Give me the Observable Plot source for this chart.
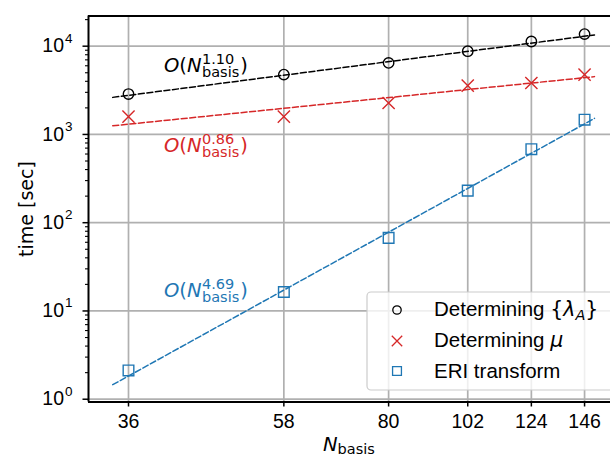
<!DOCTYPE html>
<html><head><meta charset="utf-8">
<script src="https://cdn.jsdelivr.net/npm/d3@7"></script>
<script src="https://cdn.jsdelivr.net/npm/@observablehq/plot@0.6"></script>
<style>body{margin:0;background:#fff} svg{display:block}</style>
</head><body><div id="chart"></div>
<script>
// ---- data ----
const nBasis = [36, 58, 80, 102, 124, 146];
const tLambda = [2870, 4770, 6470, 8770, 11300, 13700];
const tMu = [1590, 1590, 2270, 3570, 3830, 4770];
const tERI = [2.12, 16.4, 67.3, 231, 681, 1468];
// fitted power-law lines (end points)
const fitN = [34.3, 150.5];
const fitLambda = [2630, 13400];
const fitMu = [1254, 4520];
const fitERI = [1.46, 1520];
const xDomain = [31.84, 158.1];
const yDomain = [0.93, 21980];
const yMajor = [1, 10, 100, 1000, 10000];
const yExp = ["0", "1", "2", "3", "4"];
const yMinor = [2,3,4,5,6,7,8,9,20,30,40,50,60,70,80,90,200,300,400,500,600,700,800,900,
  2000,3000,4000,5000,6000,7000,8000,9000,20000];
const annotN = 40.2;
const annotT = [5000, 624, 14.2];
const annotExp = ["1.10", "0.86", "4.69"];
const colors = ["#000000", "#d62728", "#1f77b4"];

const rows = (ys) => nBasis.map((n, i) => ({n, t: ys[i]}));
const fitRows = (ys) => fitN.map((n, i) => ({n, t: ys[i]}));
const grid = {stroke: "#b0b0b0", strokeOpacity: 1, strokeWidth: 1.7};
const dash = "6,2.6";

const chart = Plot.plot({
  width: 610, height: 458,
  marginLeft: 88, marginRight: 0, marginTop: 15.5, marginBottom: 56.5,
  style: {fontFamily: "'Liberation Sans', Arial, sans-serif", fontSize: "19px", background: "white", color: "black"},
  x: {type: "log", domain: xDomain, label: null},
  y: {type: "log", domain: yDomain, label: null},
  marks: [
    Plot.gridX(nBasis, grid),
    Plot.gridY(yMajor, grid),
    Plot.line(fitRows(fitLambda), {x: "n", y: "t", stroke: colors[0], strokeWidth: 1.5, strokeDasharray: dash}),
    Plot.line(fitRows(fitMu), {x: "n", y: "t", stroke: colors[1], strokeWidth: 1.5, strokeDasharray: dash}),
    Plot.line(fitRows(fitERI), {x: "n", y: "t", stroke: colors[2], strokeWidth: 1.5, strokeDasharray: dash}),
    Plot.dot(rows(tLambda), {x: "n", y: "t", r: 5.2, stroke: colors[0], fill: "none", strokeWidth: 1.4}),
    Plot.dot(rows(tMu), {x: "n", y: "t", r: 5.6, symbol: "times", stroke: colors[1], fill: "none", strokeWidth: 1.4}),
    Plot.dot(rows(tERI), {x: "n", y: "t", r: 6, symbol: "square", stroke: colors[2], fill: "none", strokeWidth: 1.4}),
    Plot.ruleX([xDomain[0]], {stroke: "black", strokeWidth: 2}),
    Plot.ruleY([yDomain[0]], {stroke: "black", strokeWidth: 2}),
    Plot.ruleY([yDomain[1]], {stroke: "black", strokeWidth: 2}),
    Plot.axisX(nBasis, {tickSize: 5, tickPadding: 7, strokeWidth: 1.5, fontSize: 19.5, tickFormat: d => String(d), label: null}),
    Plot.axisY(yMajor, {tickSize: 5.5, strokeWidth: 1.5, tickFormat: () => "", label: null}),
    Plot.axisY(yMinor, {tickSize: 3, strokeWidth: 1.1, tickFormat: () => "", label: null}),
    Plot.text(yMajor, {y: d => d, frameAnchor: "left", text: () => "10", textAnchor: "end", dx: -24.5, fontSize: 19.5}),
    Plot.text(yMajor, {y: d => d, frameAnchor: "left", text: (d, i) => yExp[i], textAnchor: "start", dx: -23.5, dy: -8, fontSize: 13.5})
  ]
});
document.getElementById("chart").append(chart);

const sx = chart.scale("x"), sy = chart.scale("y");
const svg = d3.select(chart);
const MATH = "'DejaVu Sans', sans-serif";
const LF = "'Liberation Sans', Arial, sans-serif";

// annotations O(N^p_basis)
function mathLabel(x, y, color, exp) {
  const g = svg.append("g").attr("fill", color).attr("text-anchor", "start").style("font-family", MATH);
  const t = g.append("text").attr("x", x).attr("y", y).style("font-size", "19.5px");
  t.append("tspan").style("font-style", "italic").text("O");
  t.append("tspan").text("(");
  t.append("tspan").style("font-style", "italic").text("N");
  const xs = x + t.node().getComputedTextLength() + 0.5;
  const sup = g.append("text").attr("x", xs).attr("y", y - 8.5).style("font-size", "14.5px").text(exp);
  const sub = g.append("text").attr("x", xs).attr("y", y + 5).style("font-size", "14.5px").text("basis");
  const w = Math.max(sup.node().getComputedTextLength(), sub.node().getComputedTextLength());
  g.append("text").attr("x", xs + w + 1).attr("y", y).style("font-size", "19.5px").text(")");
}
annotT.forEach((t, i) => mathLabel(sx.apply(annotN), sy.apply(t), colors[i], annotExp[i]));

// axis labels
const xl = svg.append("text").attr("x", 323).attr("y", 451).attr("text-anchor", "start")
  .style("font-family", MATH).attr("fill", "black");
xl.append("tspan").style("font-style", "italic").style("font-size", "19.5px").text("N");
xl.append("tspan").attr("dy", 3).style("font-size", "14.5px").text("basis");

svg.append("text").attr("transform", "translate(33,209) rotate(-90)").attr("text-anchor", "middle")
  .style("font-family", MATH).style("font-size", "19px").attr("fill", "black").text("time [sec]");

// legend
const lg = svg.append("g").attr("text-anchor", "start");
lg.append("rect").attr("x", 367).attr("y", 292).attr("width", 250).attr("height", 98).attr("rx", 4)
  .attr("fill", "white").attr("fill-opacity", 0.8).attr("stroke", "#cccccc").attr("stroke-width", 1.2);
const legY = [310, 341, 371];
lg.append("circle").attr("cx", 397).attr("cy", legY[0]).attr("r", 4.2).attr("fill", "none")
  .attr("stroke", colors[0]).attr("stroke-width", 1.3);
lg.append("path").attr("transform", `translate(397,${legY[1]})`).attr("d", d3.symbol(d3.symbolTimes, Math.PI * 4.8 * 4.8)())
  .attr("fill", "none").attr("stroke", colors[1]).attr("stroke-width", 1.3);
lg.append("path").attr("transform", `translate(397,${legY[2]})`).attr("d", d3.symbol(d3.symbolSquare, Math.PI * 5 * 5)())
  .attr("fill", "none").attr("stroke", colors[2]).attr("stroke-width", 1.3);

const l1 = lg.append("text").attr("x", 434).attr("y", 316).style("font-family", LF).style("font-size", "20.5px");
l1.append("tspan").text("Determining ");
l1.append("tspan").style("font-family", MATH).text("{");
l1.append("tspan").style("font-family", MATH).style("font-style", "italic").text("λ");
l1.append("tspan").attr("dy", 4).style("font-family", MATH).style("font-style", "italic").style("font-size", "14.5px").text("A");
l1.append("tspan").attr("dy", -4).style("font-family", MATH).text("}");
const l2 = lg.append("text").attr("x", 434).attr("y", 347).style("font-family", LF).style("font-size", "20.5px");
l2.append("tspan").text("Determining ");
l2.append("tspan").style("font-family", MATH).style("font-style", "italic").text("μ");
lg.append("text").attr("x", 434).attr("y", 378).style("font-family", LF).style("font-size", "20.5px").text("ERI transform");
</script></body></html>
